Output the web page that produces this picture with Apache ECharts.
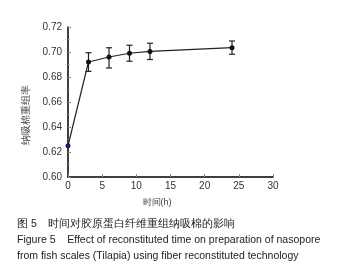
<!DOCTYPE html>
<html>
<head>
<meta charset="utf-8">
<script src="https://cdn.jsdelivr.net/npm/echarts@6/dist/echarts.min.js"></script>
<style>
  html, body { margin: 0; padding: 0; background: #fff; }
  #chart { width: 341px; height: 274px; }
</style>
</head>
<body>
<div id="chart"></div>
<script>
// time (h) and recombination rate
const times = [0, 3, 6, 9, 12, 24]
const rates = [0.625, 0.692, 0.696, 0.699, 0.7005, 0.7035]
const errLow = [0.625, 0.6845, 0.6872, 0.6926, 0.694, 0.6982]
const errHigh = [0.625, 0.6994, 0.7034, 0.7054, 0.707, 0.7088]

const yName = '纳吸棉重组率'
const xName = '时间(h)'
const caption1 = '图 5    时间对胶原蛋白纤维重组纳吸棉的影响'
const caption2 = 'Figure 5    Effect of reconstituted time on preparation of nasopore'
const caption3 = 'from fish scales (Tilapia) using fiber reconstituted technology'

const chart = echarts.init(document.getElementById('chart'))
const font = 'Liberation Sans, Arial, sans-serif'

chart.setOption({
  animation: false,
  grid: { left: 68, right: 68, top: 27, bottom: 97 },
  xAxis: {
    type: 'value',
    min: 0,
    max: 30,
    interval: 5,
    axisLine: { lineStyle: { color: '#000', width: 1.5 } },
    axisTick: { inside: true, length: 3, lineStyle: { color: '#888' } },
    axisLabel: { color: '#333', fontSize: 10, fontFamily: font, margin: 4 },
    splitLine: { show: false },
  },
  yAxis: {
    type: 'value',
    min: 0.6,
    max: 0.72,
    interval: 0.02,
    axisLine: { show: true, lineStyle: { color: '#000', width: 1.5 } },
    axisTick: { show: true, inside: true, length: 3, lineStyle: { color: '#888' } },
    minorTick: { show: true, splitNumber: 2, length: 2, lineStyle: { color: '#aaa' } },
    axisLabel: {
      color: '#333', fontSize: 10, fontFamily: font, margin: 6,
      formatter: (v) => v.toFixed(2),
    },
    splitLine: { show: false },
  },
  graphic: [
    {
      type: 'text', x: 26, y: 115, rotation: Math.PI / 2,
      style: { text: yName, fill: '#444', fontSize: 10, fontFamily: font, align: 'center', verticalAlign: 'middle' },
    },
    {
      type: 'text', x: 157, y: 203,
      style: { text: xName, fill: '#444', fontSize: 9, fontFamily: font, align: 'center', verticalAlign: 'middle' },
    },
    {
      type: 'text', x: 17, y: 224,
      style: { text: caption1, fill: '#222', fontSize: 10.5, fontFamily: font, verticalAlign: 'middle' },
    },
    {
      type: 'text', x: 17, y: 240,
      style: { text: caption2, fill: '#222', fontSize: 10.5, fontFamily: font, verticalAlign: 'middle' },
    },
    {
      type: 'text', x: 17, y: 256,
      style: { text: caption3, fill: '#222', fontSize: 10.5, fontFamily: font, verticalAlign: 'middle' },
    },
  ],
  series: [
    {
      type: 'custom',
      data: times.map((t, i) => [t, errLow[i], errHigh[i]]),
      renderItem: (params, api) => {
        const lo = api.coord([api.value(0), api.value(1)])
        const hi = api.coord([api.value(0), api.value(2)])
        const w = 3
        const style = { stroke: '#222', lineWidth: 1.2 }
        if (hi[1] === lo[1]) return
        return {
          type: 'group',
          children: [
            { type: 'line', shape: { x1: hi[0], y1: hi[1], x2: lo[0], y2: lo[1] }, style },
            { type: 'line', shape: { x1: hi[0] - w, y1: hi[1], x2: hi[0] + w, y2: hi[1] }, style },
            { type: 'line', shape: { x1: lo[0] - w, y1: lo[1], x2: lo[0] + w, y2: lo[1] }, style },
          ],
        }
      },
      z: 3,
    },
    {
      type: 'line',
      data: times.map((t, i) => ({
        value: [t, rates[i]],
        itemStyle: i === 0 ? { color: '#1a1a70' } : undefined,
      })),
      symbol: 'circle',
      symbolSize: 5,
      lineStyle: { color: '#222', width: 1.2 },
      itemStyle: { color: '#111' },
      z: 4,
    },
  ],
})
</script>
</body>
</html>
